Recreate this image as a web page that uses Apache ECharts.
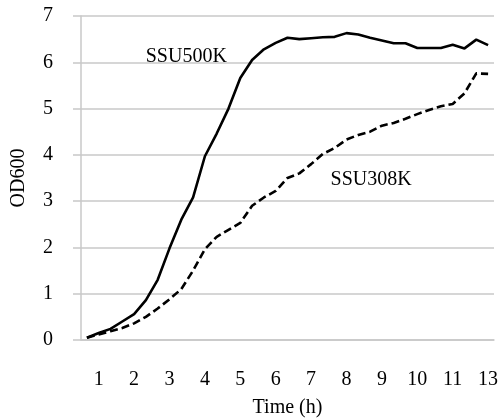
<!DOCTYPE html>
<html>
<head>
<meta charset="utf-8">
<script src="https://cdn.jsdelivr.net/npm/echarts@6/dist/echarts.min.js"></script>
<style>
  html, body { margin: 0; padding: 0; background: #fff; }
  #growth-chart { width: 499px; height: 420px; }
</style>
</head>
<body>
<div id="growth-chart"></div>
<script>
  // one label every 3rd sample (20 min steps), as on the original sheet
  const tickLabels = ['', '1', '', '', '2', '', '', '3', '', '', '4', '', '', '5', '', '', '6', '', '',
                      '7', '', '', '8', '', '', '9', '', '', '10', '', '', '11', '', '', '13'];
  const ssu500k = [0.05, 0.15, 0.24, 0.40, 0.56, 0.86, 1.30, 1.98, 2.60, 3.08, 3.97, 4.46, 5.00, 5.66,
                   6.05, 6.28, 6.42, 6.53, 6.50, 6.52, 6.54, 6.55, 6.63, 6.60, 6.53, 6.47, 6.41, 6.41,
                   6.31, 6.31, 6.31, 6.38, 6.30, 6.49, 6.37];
  const ssu308k = [0.05, 0.12, 0.19, 0.26, 0.36, 0.50, 0.68, 0.88, 1.10, 1.50, 1.96, 2.23, 2.38, 2.53,
                   2.90, 3.08, 3.22, 3.50, 3.60, 3.80, 4.02, 4.15, 4.33, 4.43, 4.50, 4.63, 4.69, 4.78,
                   4.88, 4.97, 5.05, 5.10, 5.33, 5.76, 5.75];
  const yTicks = { min: 0, max: 7, step: 1 };

  const font = "'Liberation Serif', 'Times New Roman', serif";
  const gridGrey = '#c8c8c8';

  function tag(text, coord, offset) {
    return {
      symbolSize: 0.01,
      itemStyle: { color: 'transparent' },
      label: { show: true, position: 'inside', formatter: text, offset: offset,
               color: '#000', fontFamily: font, fontSize: 20 },
      data: [{ coord: coord }]
    };
  }

  let myChart = echarts.init(document.getElementById('growth-chart'));
  myChart.setOption({
    animation: false,
    backgroundColor: '#fff',
    textStyle: { fontFamily: font },
    // fixed plot box, don't let v6 shrink it around the labels
    grid: { left: 81, right: 5, top: 16, bottom: 80, outerBoundsMode: 'none', containLabel: false },
    xAxis: {
      type: 'category',
      data: tickLabels,
      boundaryGap: true,
      name: 'Time (h)',
      nameLocation: 'middle',
      nameGap: 58,
      nameTextStyle: { color: '#000', fontFamily: font, fontSize: 20 },
      axisLine: { lineStyle: { color: gridGrey, width: 1.5 } },
      axisTick: { show: false },
      axisLabel: { interval: 0, margin: 30, color: '#000', fontFamily: font, fontSize: 20 },
      splitLine: { show: false }
    },
    yAxis: {
      type: 'value',
      min: yTicks.min,
      max: yTicks.max,
      interval: yTicks.step,
      name: 'OD600',
      nameLocation: 'middle',
      nameGap: 52,
      nameTextStyle: { color: '#000', fontFamily: font, fontSize: 20 },
      axisLine: { show: true, lineStyle: { color: gridGrey, width: 1.5 } },
      axisTick: { show: true, length: 8, lineStyle: { color: gridGrey, width: 1.5 } },
      axisLabel: { margin: 28, color: '#000', fontFamily: font, fontSize: 20 },
      splitLine: { lineStyle: { color: gridGrey, width: 1.5 } }
    },
    series: [
      {
        name: 'SSU500K',
        type: 'line',
        data: ssu500k,
        symbol: 'none',
        lineStyle: { color: '#000', width: 2.6, type: 'solid' },
        markPoint: tag('SSU500K', [8, 6.11], [5, 0])
      },
      {
        name: 'SSU308K',
        type: 'line',
        data: ssu308k,
        symbol: 'none',
        lineStyle: { color: '#000', width: 2.6, type: [8, 4] },
        markPoint: tag('SSU308K', [24, 3.46], [1, 0])
      }
    ]
  });
</script>
</body>
</html>
